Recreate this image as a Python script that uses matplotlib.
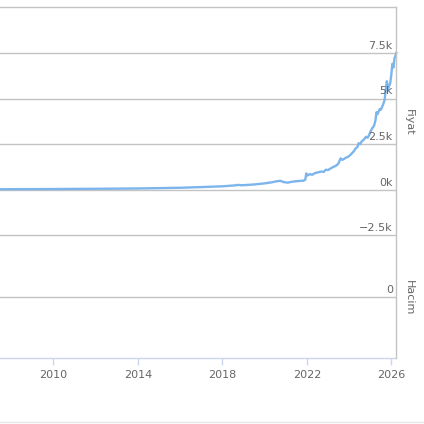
import matplotlib
matplotlib.use("Agg")
import matplotlib.pyplot as plt
from matplotlib.lines import Line2D

# Data (decimal years, price)
years = [2007.40, 2008.0, 2009.0, 2010.0, 2011.0, 2012.0, 2013.0, 2014.0, 2015.0,
         2016.0, 2016.8, 2017.3, 2018.0, 2018.6, 2018.75, 2018.9, 2019.5, 2020.0,
         2020.3, 2020.6, 2020.75, 2020.9, 2021.1, 2021.3, 2021.6, 2021.85, 2021.93,
         2021.97, 2022.02, 2022.1, 2022.15, 2022.25, 2022.4, 2022.55, 2022.7, 2022.8,
         2022.9, 2023.0, 2023.1, 2023.2, 2023.35, 2023.45, 2023.5, 2023.6, 2023.68,
         2023.75, 2023.85, 2023.95, 2024.05, 2024.15, 2024.22, 2024.3, 2024.4, 2024.45,
         2024.52, 2024.6, 2024.7, 2024.8, 2024.88, 2024.95, 2025.02, 2025.1, 2025.18,
         2025.25, 2025.3, 2025.35, 2025.45, 2025.5, 2025.55, 2025.62, 2025.68, 2025.75,
         2025.79, 2025.84, 2025.9, 2025.95, 2026.0, 2026.05, 2026.1, 2026.15, 2026.2,
         2026.235]
prices = [30, 32, 35, 40, 48, 55, 62, 72, 90,
          110, 140, 160, 190, 240, 270, 245, 290, 350,
          400, 470, 490, 420, 390, 440, 480, 500, 560,
          900, 780, 830, 860, 820, 920, 960, 1000, 980,
          1100, 1080, 1150, 1220, 1300, 1380, 1450, 1720, 1640,
          1680, 1760, 1800, 1900, 2020, 2100, 2250, 2350, 2550,
          2500, 2650, 2750, 2900, 2850, 3000, 3200, 3380, 3500,
          3800, 4250, 4150, 4420, 4380, 4500, 4700, 4900, 5600,
          5950, 5500, 5700, 5850, 6300, 6900, 6700, 7200, 7350,
          7500]

price_ticks = [-2500, 0, 2500, 5000, 7500]
price_labels = ["\u22122.5k", "0k", "2.5k", "5k", "7.5k"]
volume_ticks = [0]
volume_labels = ["0"]
year_ticks = [2010, 2014, 2018, 2022, 2026]

W = H = 424
fig = plt.figure(figsize=(4.24, 4.24), dpi=100)
fig.patch.set_facecolor("white")

grid_c = "#c3c3c3"
text_c = "#666666"
axis_c = "#ccd6eb"
line_c = "#7cb5ec"
fs = 8.0

x0, x1 = 2007.466, 2026.237
left = 0.0
right = 396.3 / W
top_px, mid_px, bot_px = 7.3, 281.0, 358.3

ax = fig.add_axes([left, 1 - mid_px / H, right - left, (mid_px - top_px) / H])
axv = fig.add_axes([left, 1 - bot_px / H, right - left, (bot_px - mid_px) / H])

for a in (ax, axv):
    a.set_xlim(x0, x1)
    a.set_facecolor("none")
    for s in a.spines.values():
        s.set_visible(False)
    a.tick_params(left=False, labelleft=False, right=False, labelright=False)

ax.set_ylim(-5000, 10000)
ax.plot(years, prices, color=line_c, lw=1.7, solid_joinstyle="round", zorder=3, clip_on=False)
for v, lab in zip(price_ticks, price_labels):
    ax.axhline(v, color=grid_c, lw=1, zorder=1)
    ax.annotate(lab, xy=(1, v), xycoords=("axes fraction", "data"),
                xytext=(-2.5, 1.5), textcoords="offset points", ha="right", va="bottom",
                fontsize=fs, color=text_c)
ax.axhline(10000, color=grid_c, lw=1, zorder=1, clip_on=False)
ax.tick_params(bottom=False, labelbottom=False)

axv.set_ylim(-61, 16)
for v, lab in zip(volume_ticks, volume_labels):
    axv.axhline(v, color=grid_c, lw=1, zorder=1)
    axv.annotate(lab, xy=(1, v), xycoords=("axes fraction", "data"),
                 xytext=(-2.5, 1.5), textcoords="offset points", ha="right", va="bottom",
                 fontsize=fs, color=text_c)
axv.spines["bottom"].set_visible(True)
axv.spines["bottom"].set_color(axis_c)
axv.spines["bottom"].set_linewidth(1)
axv.set_xticks(year_ticks)
axv.set_xticklabels([str(y) for y in year_ticks])
axv.tick_params(axis="x", direction="out", length=5, width=1, color=axis_c,
                labelsize=fs, labelcolor=text_c, pad=3.5)

# right border line spanning both panes
fig.add_artist(Line2D([right, right], [1 - top_px / H, 1 - bot_px / H],
                      color=grid_c, lw=1, transform=fig.transFigure))
# bottom separator line
fig.add_artist(Line2D([0, 1], [1 - 421.5 / H, 1 - 421.5 / H],
                      color="#e6e6e6", lw=1, transform=fig.transFigure))

fig.text(409 / W, 1 - 122 / H, "Fiyat", rotation=270, ha="center", va="center",
         fontsize=fs, color=text_c)
fig.text(409 / W, 1 - 298 / H, "Hacim", rotation=270, ha="center", va="center",
         fontsize=fs, color=text_c)

fig.savefig("out.png", dpi=100, facecolor="white")
